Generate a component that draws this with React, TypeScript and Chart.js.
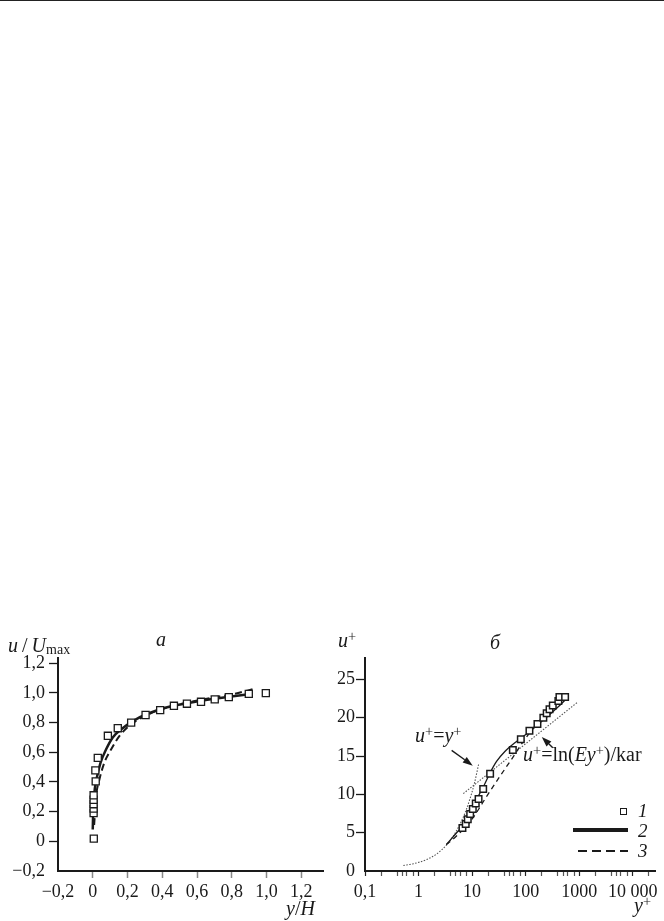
import React, { useEffect, useRef } from 'react';
import { Chart, registerables } from 'chart.js';

Chart.register(...registerables);

const FONT = '"Liberation Serif", "Times New Roman", serif';
const INK = '#1a1a1a';

// ---------- Panel a: u/Umax vs y/H ----------
const aDataX = [0.006, 0.005, 0.005, 0.005, 0.005, 0.005, 0.017, 0.015, 0.029, 0.087, 0.144, 0.221, 0.304, 0.388, 0.467, 0.542, 0.623, 0.702, 0.783, 0.898, 0.996];
const aDataY = [0.018, 0.19, 0.22, 0.25, 0.28, 0.31, 0.404, 0.478, 0.562, 0.711, 0.762, 0.80, 0.851, 0.884, 0.913, 0.927, 0.94, 0.956, 0.971, 0.993, 0.998];
const aSolidX = [0.0, 0.002, 0.008, 0.022, 0.045, 0.077, 0.115, 0.164, 0.231, 0.308, 0.423, 0.615, 0.70, 0.808, 0.91];
const aSolidY = [0.08, 0.18, 0.31, 0.42, 0.53, 0.62, 0.70, 0.755, 0.81, 0.856, 0.902, 0.945, 0.96, 0.978, 0.993];
const aDashX = [0.008, 0.02, 0.039, 0.067, 0.106, 0.154, 0.212, 0.308, 0.423, 0.615, 0.673, 0.808, 0.93];
const aDashY = [0.11, 0.31, 0.42, 0.53, 0.62, 0.71, 0.78, 0.849, 0.90, 0.952, 0.965, 0.992, 1.027];

// ---------- Panel б: u+ vs y+ ----------
const bDataX = [6.6, 7.6, 8.3, 9.2, 10.3, 11.7, 13.2, 16.1, 21.7, 57.6, 81.2, 117.6, 166, 214, 247, 279, 321, 408, 427, 545];
const bDataY = [5.6, 6.15, 6.75, 7.45, 8.1, 8.8, 9.4, 10.7, 12.7, 15.8, 17.2, 18.3, 19.2, 20.0, 20.6, 21.1, 21.6, 22.2, 22.7, 22.7];
const bSolidX = [3.3, 5, 6.6, 9, 12, 16, 21.6, 28.6, 40.9, 67.5, 119, 212, 375, 580];
const bSolidY = [3.45, 4.9, 5.9, 7.6, 9.3, 10.9, 12.8, 14.3, 15.6, 16.9, 18.2, 19.7, 21.2, 22.5];
const bDashX = [3.3, 5, 7, 9.1, 12, 18.7, 33, 58.5, 90, 184, 325, 560];
const bDashY = [3.45, 4.5, 5.5, 6.4, 7.6, 9.75, 12.35, 14.9, 16.9, 19.7, 21.4, 23.0];
const bWallX = [0.52, 0.8, 1.42, 2.2, 3.34, 4.5, 5.93, 7.5, 9.1, 11, 13.2];
const bWallY = [0.72, 0.95, 1.5, 2.25, 3.4, 4.6, 6.1, 7.7, 9.4, 11.4, 13.9];
const bLogX = [6.85, 920];
const bLogY = [10.1, 22.0];
const bXMin = 0.1;
const bXMax = 26000;
const bMajorTicks = [0.1, 1, 10, 100, 1000, 10000];
const bMajorLabels = ['0,1', '1', '10', '100', '1000', '10 000'];
const bMinorFactors = [2, 4, 5, 6, 8];
const bArrowFromX = [4.15, 321];
const bArrowFromY = [15.75, 16.1];
const bArrowToX = [10.3, 200];
const bArrowToY = [13.75, 17.5];

const pts = (xs: number[], ys: number[]) => xs.map((x, i) => ({ x, y: ys[i] }));

const fmtComma = (v: number) => {
  if (Math.abs(v) < 1e-9) return '0';
  return v.toFixed(1).replace('.', ',').replace('-', '\u2212');
};

const tickFont = { family: FONT, size: 18 };

const configA: any = {
  type: 'scatter',
  data: {
    datasets: [
      { label: '1', data: pts(aDataX, aDataY), pointStyle: 'rect', pointRadius: 5, pointBorderWidth: 1.3, borderColor: INK, backgroundColor: '#fff', showLine: false, order: 0 },
      { label: '2', data: pts(aSolidX, aSolidY), showLine: true, pointRadius: 0, borderColor: INK, borderWidth: 2.5, cubicInterpolationMode: 'monotone', order: 1 },
      { label: '3', data: pts(aDashX, aDashY), showLine: true, pointRadius: 0, borderColor: INK, borderWidth: 2, borderDash: [7, 4], cubicInterpolationMode: 'monotone', order: 2 },
    ],
  },
  options: {
    responsive: false,
    animation: false,
    devicePixelRatio: 1,
    layout: { padding: { top: 38, right: 9, left: 0, bottom: 0 } },
    plugins: { legend: { display: false }, tooltip: { enabled: false } },
    scales: {
      x: {
        type: 'linear', min: -0.2, max: 1.325,
        afterFit: (s: any) => { s.height = 50; },
        border: { display: true, color: INK, width: 2 },
        grid: {
          drawOnChartArea: false, drawTicks: true, tickLength: 7, tickWidth: 1.5,
          tickColor: (c: any) => (c.tick && Math.abs(c.tick.value + 0.2) < 1e-6 ? 'rgba(0,0,0,0)' : '#888'),
        },
        ticks: { stepSize: 0.2, includeBounds: false, autoSkip: false, maxRotation: 0, padding: 3, color: INK, font: tickFont, callback: (v: any) => fmtComma(Number(v)) },
      },
      y: {
        type: 'linear', min: -0.2, max: 1.235,
        afterFit: (s: any) => { s.width = 58; },
        border: { display: true, color: INK, width: 2 },
        grid: {
          drawOnChartArea: false, drawTicks: true, tickLength: 9, tickWidth: 1.3,
          tickColor: (c: any) => (c.tick && Math.abs(c.tick.value + 0.2) < 1e-6 ? 'rgba(0,0,0,0)' : INK),
        },
        ticks: { stepSize: 0.2, includeBounds: false, autoSkip: false, padding: 4, color: INK, font: tickFont, callback: (v: any) => fmtComma(Number(v)) },
      },
    },
  },
};

const isPow10 = (v: number) => Math.abs(Math.log10(v) - Math.round(Math.log10(v))) < 1e-9;

const bTickValues: number[] = [];
bMajorTicks.forEach((m) => {
  bTickValues.push(m);
  bMinorFactors.forEach((f) => {
    if (m * f <= bXMax) bTickValues.push(m * f);
  });
});

const arrowPlugin = {
  id: 'arrows',
  afterDatasetsDraw(chart: any) {
    const { ctx, scales } = chart;
    const xs = scales.x;
    const ys = scales.y;
    ctx.save();
    ctx.strokeStyle = INK;
    ctx.fillStyle = INK;
    ctx.lineWidth = 1.4;
    for (let i = 0; i < bArrowFromX.length; i++) {
      const x1 = xs.getPixelForValue(bArrowFromX[i]);
      const y1 = ys.getPixelForValue(bArrowFromY[i]);
      const x2 = xs.getPixelForValue(bArrowToX[i]);
      const y2 = ys.getPixelForValue(bArrowToY[i]);
      const ang = Math.atan2(y2 - y1, x2 - x1);
      const hl = 10;
      const hw = 3.5;
      const bx = x2 - hl * Math.cos(ang);
      const by = y2 - hl * Math.sin(ang);
      ctx.beginPath();
      ctx.moveTo(x1, y1);
      ctx.lineTo(bx, by);
      ctx.stroke();
      ctx.beginPath();
      ctx.moveTo(x2, y2);
      ctx.lineTo(bx + hw * Math.sin(ang), by - hw * Math.cos(ang));
      ctx.lineTo(bx - hw * Math.sin(ang), by + hw * Math.cos(ang));
      ctx.closePath();
      ctx.fill();
    }
    ctx.restore();
  },
};

const configB: any = {
  type: 'scatter',
  data: {
    datasets: [
      { label: '1', data: pts(bDataX, bDataY), pointStyle: 'rect', pointRadius: 4.6, pointBorderWidth: 1.5, borderColor: INK, backgroundColor: '#fff', showLine: false, order: 0 },
      { label: '2', data: pts(bSolidX, bSolidY), showLine: true, pointRadius: 0, borderColor: INK, borderWidth: 1.3, cubicInterpolationMode: 'monotone', order: 1 },
      { label: '3', data: pts(bDashX, bDashY), showLine: true, pointRadius: 0, borderColor: INK, borderWidth: 1.3, borderDash: [5, 4], cubicInterpolationMode: 'monotone', order: 2 },
      { label: 'u+=y+', data: pts(bWallX, bWallY), showLine: true, pointRadius: 0, borderColor: '#555', borderWidth: 1.1, borderDash: [1.5, 1.5], cubicInterpolationMode: 'monotone', order: 3 },
      { label: 'log', data: pts(bLogX, bLogY), showLine: true, pointRadius: 0, borderColor: '#555', borderWidth: 1.1, borderDash: [1.5, 1.5], order: 4 },
    ],
  },
  options: {
    responsive: false,
    animation: false,
    devicePixelRatio: 1,
    layout: { padding: { top: 38, right: 9, left: 0, bottom: 0 } },
    plugins: { legend: { display: false }, tooltip: { enabled: false } },
    scales: {
      x: {
        type: 'logarithmic', min: bXMin, max: bXMax, bounds: 'data',
        afterFit: (s: any) => { s.height = 50; },
        afterBuildTicks: (s: any) => { s.ticks = bTickValues.map((v) => ({ value: v, major: false })); },
        border: { display: true, color: INK, width: 2 },
        grid: {
          drawOnChartArea: false, drawTicks: true, tickLength: 5, tickWidth: 1.2,
          tickColor: (c: any) => (c.tick && isPow10(c.tick.value) ? '#222' : '#555'),
        },
        ticks: {
          autoSkip: false, maxRotation: 0, padding: 5, color: INK, font: tickFont,
          callback: (v: any) => {
            const n = Number(v);
            const idx = bMajorTicks.findIndex((m) => Math.abs(m - n) / m < 1e-9);
            return idx >= 0 ? bMajorLabels[idx] : '';
          },
        },
      },
      y: {
        type: 'linear', min: 0, max: 27.8,
        afterFit: (s: any) => { s.width = 33; },
        border: { display: true, color: INK, width: 2 },
        grid: {
          drawOnChartArea: false, drawTicks: true, tickLength: 9, tickWidth: 1.3,
          tickColor: (c: any) => (c.tick && c.tick.value === 0 ? 'rgba(0,0,0,0)' : INK),
        },
        ticks: { stepSize: 5, includeBounds: false, autoSkip: false, padding: 1, color: INK, font: tickFont },
      },
    },
  },
  plugins: [arrowPlugin],
};

function ChartCanvas({ config, left, top }: { config: any; left: number; top: number }) {
  const ref = useRef<HTMLCanvasElement>(null);
  useEffect(() => {
    const chart = new Chart(ref.current as HTMLCanvasElement, config);
    return () => chart.destroy();
  }, [config]);
  return <canvas ref={ref} width={332} height={301} style={{ position: 'absolute', left, top, width: 332, height: 301 }} />;
}

const Sup = ({ children }: { children: React.ReactNode }) => (
  <sup style={{ fontSize: '0.72em', verticalAlign: '0.45em', lineHeight: 0 }}>{children}</sup>
);

function T({ left, top, size = 20, italic = false, children }: { left: number; top: number; size?: number; italic?: boolean; children: React.ReactNode }) {
  return (
    <div style={{ position: 'absolute', left, top, fontSize: size, lineHeight: 1, whiteSpace: 'nowrap', fontStyle: italic ? 'italic' : 'normal', color: INK }}>
      {children}
    </div>
  );
}

export default function App() {
  return (
    <div style={{ position: 'absolute', left: 0, top: 0, width: 664, height: 921, background: '#fff', fontFamily: FONT, overflow: 'hidden' }}>
      <div style={{ position: 'absolute', left: 0, top: 0, width: 664, height: 1, background: '#222' }} />
      <ChartCanvas config={configA} left={0} top={620} />
      <ChartCanvas config={configB} left={332} top={620} />

      {/* panel a texts */}
      <T left={8} top={635} size={20}>
        <i>u</i>{'\u2009/\u2009'}<i>U</i><span style={{ fontSize: 14, position: 'relative', top: 2 }}>max</span>
      </T>
      <T left={156} top={629} size={20} italic>a</T>
      <T left={286} top={898} size={20}>
        <i>y</i>/<i>H</i>
      </T>

      {/* panel б texts */}
      <T left={338} top={630} size={20}>
        <i>u</i><Sup>+</Sup>
      </T>
      <T left={490} top={632} size={20} italic>б</T>
      <T left={634} top={895} size={20}>
        <i>y</i><Sup>+</Sup>
      </T>
      <T left={415} top={725} size={20}>
        <i>u</i><Sup>+</Sup>=<i>y</i><Sup>+</Sup>
      </T>
      <T left={523} top={744} size={20}>
        <i>u</i><Sup>+</Sup>=ln(<i>Ey</i><Sup>+</Sup>)/kar
      </T>

      {/* legend */}
      <div style={{ position: 'absolute', left: 619.5, top: 808, width: 5, height: 5, border: `1.5px solid ${INK}`, background: '#fff' }} />
      <T left={638} top={801} size={19} italic>1</T>
      <div style={{ position: 'absolute', left: 573, top: 828, width: 55, height: 4, background: INK }} />
      <T left={638} top={821} size={19} italic>2</T>
      <div style={{ position: 'absolute', left: 578, top: 850, width: 50, height: 1.5, background: `repeating-linear-gradient(to right, ${INK} 0 9px, transparent 9px 14px)` }} />
      <T left={638} top={841} size={19} italic>3</T>
    </div>
  );
}
